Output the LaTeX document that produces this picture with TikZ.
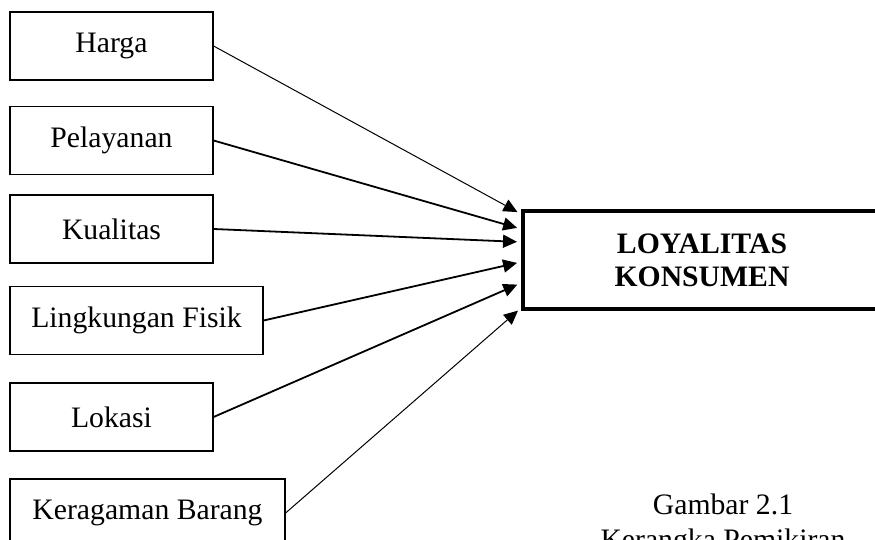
\documentclass[tikz,border=0pt]{standalone}
\usepackage{fontspec}
\setmainfont{Liberation Serif}
\usetikzlibrary{arrows.meta, calc}

\begin{document}
\begin{tikzpicture}[x=0.5pt, y=-0.5pt,
faktor/.style={draw, line width=0.6pt, minimum height=34pt, inner sep=0pt, font=\fontsize{14.85}{18}\selectfont},
hasil/.style={draw, line width=2pt, minimum width=179pt, minimum height=49pt, align=center, font=\fontsize{14.85}{16.5}\selectfont\bfseries},
panah/.style={-{Triangle[length=7pt, width=6.5pt]}, shorten >=2pt}]
\clip (0,0) rectangle (875,540);
\node[faktor, minimum width=101.5pt] (harga) at (111.5,46) {Harga};
\node[faktor, minimum width=101.5pt] (pelayanan) at (111.5,140.5) {Pelayanan};
\node[faktor, minimum width=101.5pt] (kualitas) at (111.5,229) {Kualitas};
\node[faktor, minimum width=126.5pt] (lingkungan) at (136.5,320.5) {Lingkungan Fisik};
\node[faktor, minimum width=101.5pt] (lokasi) at (111.5,417) {Lokasi};
\node[faktor, minimum width=137.5pt] (keragaman) at (147.5,513) {Keragaman Barang};
\node[hasil] (loyalitas) at (702,260) {LOYALITAS\\KONSUMEN};
\draw[panah, line width=0.5pt] (harga.east) -- (loyalitas.west |- 0,214);
\draw[panah, line width=0.9pt] (pelayanan.east) -- (loyalitas.west |- 0,229);
\draw[panah, line width=0.9pt] (kualitas.east) -- (loyalitas.west |- 0,242);
\draw[panah, line width=0.9pt] (lingkungan.east) -- (loyalitas.west |- 0,262);
\draw[panah, line width=0.9pt] (lokasi.east) -- (loyalitas.west |- 0,283);
\draw[panah, line width=0.5pt] (keragaman.east) -- (loyalitas.west |- 0,308);
\node[anchor=base, font=\fontsize{14.85}{18}\selectfont] (gambar) at (723,515) {Gambar 2.1};
\node[anchor=base, font=\fontsize{14.85}{18}\selectfont] (kerangka) at (723,550) {Kerangka Pemikiran};
\end{tikzpicture}
\end{document}
